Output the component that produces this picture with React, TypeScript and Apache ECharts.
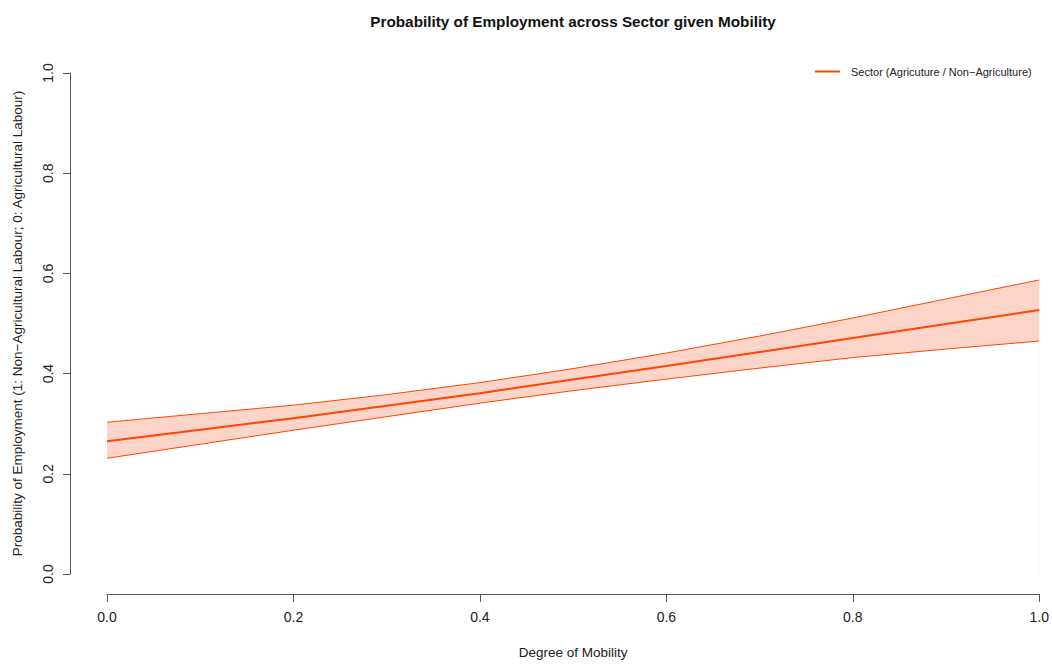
import React, { useEffect, useRef } from "react";
import * as echarts from "echarts";

const mobility = [0, 0.1, 0.2, 0.3, 0.4, 0.5, 0.6, 0.7, 0.8, 0.9, 1.0];
const meanProb = [0.265, 0.288, 0.311, 0.336, 0.361, 0.388, 0.415, 0.443, 0.471, 0.499, 0.527];
const upperProb = [0.303, 0.32, 0.337, 0.358, 0.382, 0.41, 0.441, 0.475, 0.511, 0.549, 0.587];
const lowerProb = [0.231, 0.259, 0.287, 0.314, 0.341, 0.366, 0.389, 0.411, 0.432, 0.449, 0.465];
const xTicks = [0, 0.2, 0.4, 0.6, 0.8, 1.0];
const yTicks = [0, 0.2, 0.4, 0.6, 0.8, 1.0];

const seriesName = "Sector (Agricuture / Non\u2212Agriculture)";
const titleText = "Probability of Employment across Sector given Mobility";
const xName = "Degree of Mobility";
const yName = "Probability of Employment (1: Non\u2212Agricultural Labour; 0: Agricultural Labour)";

const FONT = "'Liberation Sans', Arial, Helvetica, sans-serif";
const LINE = "#FF4500";
const FILL = "#FDD5C8";

export default function App() {
  const ref = useRef<HTMLDivElement>(null);
  useEffect(() => {
    if (!ref.current) return;
    const chart = echarts.init(ref.current, undefined, { renderer: "svg" });
    const pairs = (ys: number[]) => mobility.map((x, i) => [x, ys[i]]);
    chart.setOption({
      animation: false,
      backgroundColor: "#ffffff",
      textStyle: { fontFamily: FONT },
      title: {
        text: titleText,
        left: 568,
        top: 9,
        textAlign: "center",
        textStyle: { fontFamily: FONT, fontSize: 15.3, fontWeight: "bold", color: "#111" },
      },
      legend: {
        data: [seriesName],
        left: 815,
        top: 66,
        padding: 0,
        icon: "rect",
        itemWidth: 25,
        itemHeight: 2,
        itemGap: 10,
        textStyle: { fontFamily: FONT, fontSize: 11, color: "#222", padding: [0, 0, 0, 6] },
      },
      grid: { left: 107, right: 12, top: 73, bottom: 90 },
      xAxis: {
        type: "value",
        min: 0,
        max: 1,
        interval: 0.2,
        offset: 20,
        name: xName,
        nameLocation: "middle",
        nameGap: 51,
        nameTextStyle: { fontFamily: FONT, fontSize: 13.5, color: "#222" },
        axisLine: { show: true, onZero: false, lineStyle: { color: "#555", width: 1 } },
        axisTick: { show: true, length: 8, lineStyle: { color: "#555" } },
        axisLabel: {
          fontFamily: FONT,
          fontSize: 14,
          color: "#222",
          margin: 16,
          formatter: (v: number) => (xTicks.includes(v) ? v.toFixed(1) : ""),
        },
        splitLine: { show: false },
      },
      yAxis: {
        type: "value",
        min: 0,
        max: 1,
        interval: 0.2,
        offset: 37,
        name: yName,
        nameLocation: "middle",
        nameGap: 46,
        nameTextStyle: { fontFamily: FONT, fontSize: 13.5, color: "#222" },
        axisLine: { show: true, onZero: false, lineStyle: { color: "#555", width: 1 } },
        axisTick: { show: true, length: 7, lineStyle: { color: "#555" } },
        axisLabel: {
          fontFamily: FONT,
          fontSize: 14,
          color: "#222",
          rotate: 90,
          margin: 15,
          formatter: (v: number) => (yTicks.includes(v) ? v.toFixed(1) : ""),
        },
        splitLine: { show: false },
      },
      series: [
        {
          name: "upperFill",
          type: "line",
          data: pairs(upperProb),
          symbol: "none",
          lineStyle: { opacity: 0 },
          areaStyle: { color: FILL, opacity: 1, origin: "start" },
          silent: true,
          z: 1,
        },
        {
          name: "lowerMask",
          type: "line",
          data: pairs(lowerProb),
          symbol: "none",
          lineStyle: { opacity: 0 },
          areaStyle: { color: "#ffffff", opacity: 1, origin: "start" },
          silent: true,
          z: 1,
        },
        {
          name: "upper",
          type: "line",
          data: pairs(upperProb),
          symbol: "none",
          lineStyle: { color: LINE, width: 1 },
          itemStyle: { color: LINE },
          z: 3,
        },
        {
          name: "lower",
          type: "line",
          data: pairs(lowerProb),
          symbol: "none",
          lineStyle: { color: LINE, width: 1 },
          itemStyle: { color: LINE },
          z: 3,
        },
        {
          name: seriesName,
          type: "line",
          data: pairs(meanProb),
          symbol: "none",
          lineStyle: { color: LINE, width: 2 },
          itemStyle: { color: LINE },
          z: 4,
        },
      ],
    });
    return () => chart.dispose();
  }, []);
  return (
    <div
      ref={ref}
      style={{ position: "absolute", left: 0, top: 0, width: 1052, height: 664 }}
    />
  );
}
